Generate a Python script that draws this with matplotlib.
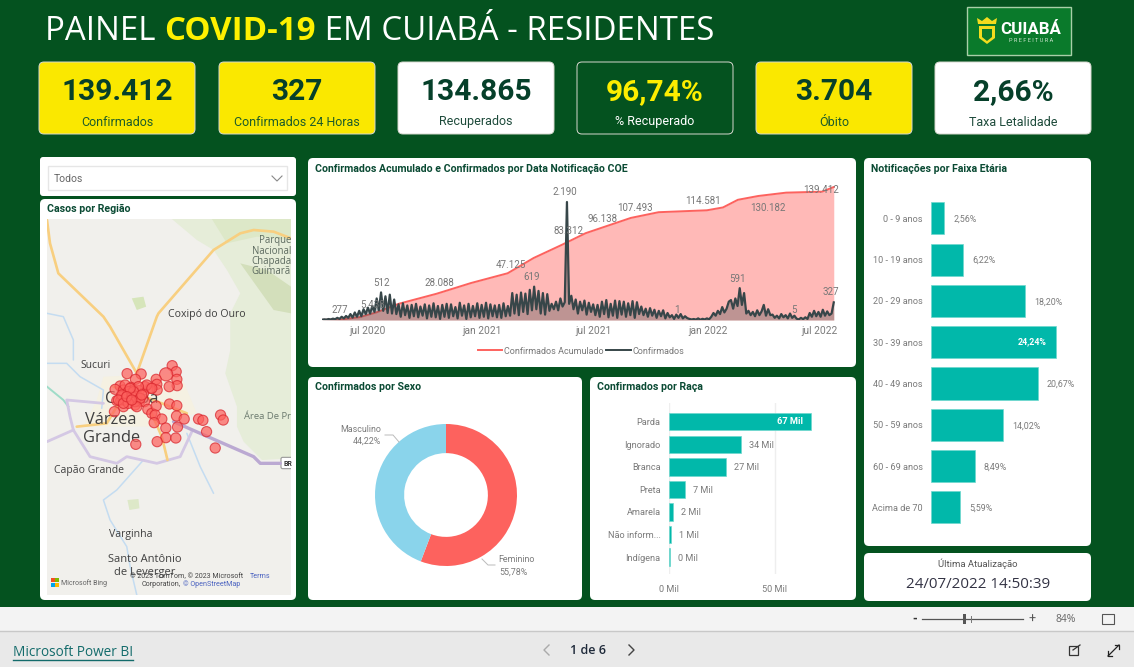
import numpy as np
import pandas as pd
import matplotlib
matplotlib.use("Agg")
import matplotlib.pyplot as plt
from matplotlib.patches import FancyBboxPatch, Rectangle, Polygon
from matplotlib.lines import Line2D

W, H = 1134, 667
BG = "#04521f"
DARK = "#06402a"
YEL = "#fae800"
TEAL = "#01b8aa"
RED = "#fd625e"
BLUE = "#8ad4eb"
GRAY = "#7b7b7b"
DIN = "Roboto"
SEG = "Open Sans"

# ---- KPI cards
kpi_values = ["139.412", "327", "134.865", "96,74%", "3.704", "2,66%"]
kpi_labels = ["Confirmados", "Confirmados 24 Horas", "Recuperados", "% Recuperado", "Óbito", "Taxa Letalidade"]

# ---- cumulative confirmed
cum_dates = ["2020-04-18", "2020-05-20", "2020-06-18", "2020-07-15", "2020-08-20", "2020-10-20", "2020-12-15",
             "2021-02-12", "2021-03-26", "2021-05-10", "2021-06-18", "2021-08-30", "2021-10-14", "2021-12-31",
             "2022-01-26", "2022-02-19", "2022-03-24", "2022-05-08", "2022-07-05", "2022-07-24"]
cum_values = [100, 600, 3000, 8000, 17000, 27500, 38800, 49000, 65000, 78600, 91000, 107000, 113000, 115000,
              118000, 126000, 130000, 133500, 134500, 139412]

# ---- daily confirmed, alternating weekly highs and lows
daily_values = [5, 12, 8, 18, 10, 25, 15,
                40, 20, 60, 30, 75, 40,
                110, 45, 140, 60, 170, 70, 200, 110, 230, 120, 260,
                150, 400, 180, 512, 170, 440, 130, 470, 120, 380, 110,
                290, 60, 310, 90, 270, 40, 280, 70, 300, 50, 250, 80, 290, 30, 270, 60, 310, 50, 260, 20, 280, 60,
                300, 40, 290, 70, 240, 30, 320, 80, 270, 20, 300, 50, 260, 70, 310, 40, 280, 60, 320, 30, 290, 70, 270,
                50, 280, 40, 310, 70, 260,
                80, 500, 120, 470, 90, 510, 150, 490, 110, 560, 180, 619, 200, 540, 120, 500, 100, 480, 170,
                300, 200, 340, 180, 400, 250, 330,
                2190, 300,
                450, 200, 380, 120, 340, 180, 360, 100, 320, 150, 290,
                90, 280, 60, 340, 110, 370, 50, 300, 80, 360, 40, 350, 100, 340, 60, 310, 90, 350, 40, 330,
                110, 250, 90, 210, 60, 220, 80, 190, 40, 170, 70, 180, 30, 130, 50, 90, 20,
                100, 40, 110, 30, 70,
                35, 20, 10, 18, 8, 30, 5, 22, 10, 30, 12,
                60, 130, 80, 170, 110, 240, 140, 210,
                340, 370, 210, 400, 260,
                591, 280, 500,
                120, 170, 90, 150, 70, 180, 90, 160,
                280, 80, 200, 90,
                100, 40, 80, 30, 110, 50, 90, 30, 120, 40, 80,
                25, 10, 40, 15, 50, 20,
                130, 60, 170, 70, 150, 60, 190, 80, 160, 90, 120, 327]
daily_start, daily_end = "2020-04-18", "2022-07-24"
date_ticks = ["2020-07-01", "2021-01-01", "2021-07-01", "2022-01-01", "2022-07-01"]
date_tick_labels = ["jul 2020", "jan 2021", "jul 2021", "jan 2022", "jul 2022"]

# ---- sex
sex_labels = ["Feminino", "Masculino"]
sex_values = [55.78, 44.22]

# ---- race
race_labels = ["Parda", "Ignorado", "Branca", "Preta", "Amarela", "Não inform...", "Indígena"]
race_values = [67.0, 34.3, 27.0, 7.5, 1.8, 1.1, 0.4]
race_text = ["67 Mil", "34 Mil", "27 Mil", "7 Mil", "2 Mil", "1 Mil", "0 Mil"]

# ---- age
age_labels = ["0 - 9 anos", "10 - 19 anos", "20 - 29 anos", "30 - 39 anos", "40 - 49 anos", "50 - 59 anos",
              "60 - 69 anos", "Acima de 70"]
age_values = [2.56, 6.22, 18.20, 24.24, 20.67, 14.02, 8.49, 5.59]

# ---- map bubbles (map units)
bubble_x = [396, 408, 410, 411, 387, 378, 348, 350, 351, 303, 261, 286, 330, 315, 297, 272, 240, 225, 250, 270, 245,
            275, 230, 242, 298, 285, 250, 223, 313, 323, 335, 348, 345, 365, 342, 388, 410, 409, 432, 412, 377, 377,
            407, 351, 287, 475, 488, 499, 541, 549, 525, 280, 260, 290, 310, 255, 320, 335,
            265, 275, 285, 255, 245, 235, 295, 265, 280, 300, 270, 250, 290, 305, 260, 275]
bubble_y = [497, 515, 538, 557, 560, 523, 538, 553, 570, 522, 521, 538, 565, 560, 572, 562, 558, 568, 570, 580, 590,
            593, 602, 602, 605, 615, 620, 635, 605, 628, 640, 618, 645, 657, 668, 612, 617, 648, 657, 681, 684, 713,
            714, 725, 733, 657, 661, 695, 645, 660, 744, 570, 590, 590, 580, 555, 555, 565,
            575, 590, 605, 600, 585, 600, 560, 610, 575, 595, 565, 610, 620, 585, 590, 600]
bubble_s = [54] * len(bubble_x)
bubble_s[5] = 90


def box(x0, y0, x1, y1, **kw):
    return fig.add_axes([x0 / W, 1 - y1 / H, (x1 - x0) / W, (y1 - y0) / H], **kw)


def panel(x0, y0, x1, y1, fc="white", ec="none", r=5, lw=0.7):
    bg.add_patch(FancyBboxPatch((x0 + r, y0 + r), x1 - x0 - 2 * r, y1 - y0 - 2 * r,
                                boxstyle=f"round,pad={r},rounding_size={r}", fc=fc, ec=ec, lw=lw))


def T(x, y, s, size=7, color=GRAY, ha="center", va="center", family=DIN, weight="normal", ax=None, **kw):
    return (ax or top).text(x, y, s, fontsize=size, color=color, ha=ha, va=va, family=family, weight=weight, **kw)


fig = plt.figure(figsize=(W / 100, H / 100), dpi=100, facecolor=BG)
bg = fig.add_axes([0, 0, 1, 1], zorder=0)
bg.set_xlim(0, W); bg.set_ylim(H, 0); bg.axis("off")
top = fig.add_axes([0, 0, 1, 1], zorder=10)
top.set_xlim(0, W); top.set_ylim(H, 0); top.axis("off"); top.patch.set_alpha(0)

# bottom bars
bg.add_patch(Rectangle((0, 607), W, 24, fc="#f3f3f3", ec="none"))
bg.add_patch(Rectangle((0, 631), W, 36, fc="#e9e9e9", ec="none"))
bg.plot([0, W], [630.5, 630.5], color="#c8c8c8", lw=1)

# title made of three runs
fig.canvas.draw()
rend = fig.canvas.get_renderer()
cx = 45
for s, c, w in [("PAINEL ", "white", "normal"), ("COVID-19", "#fdf100", "bold"), (" EM CUIABÁ - RESIDENTES", "white", "normal")]:
    t = T(cx, 31, s.replace(" ", "\u00a0"), size=23.8, color=c, ha="left", family=SEG, weight=w)
    cx += t.get_window_extent(rend).width

# logo
bg.add_patch(Rectangle((967, 7), 104, 48, fc="#0a7a2b", ec="#a8cfa8", lw=1))
bg.add_patch(Polygon([(979, 26), (995, 26), (995, 38), (987, 44), (979, 38)], fc="#f2dc1e", ec="none"))
bg.add_patch(Polygon([(978, 24), (977, 18), (982, 21), (987, 17), (992, 21), (997, 18), (996, 24)], fc="#f2dc1e", ec="none"))
bg.add_patch(Polygon([(982, 29), (992, 29), (992, 37), (987, 41), (982, 37)], fc="#0a7a2b", ec="none"))
T(1030.5, 29, "CUIABÁ", size=12.2, color="white", weight="bold", family="Roboto")
T(1031, 40.5, "P R E F E I T U R A", size=4, color="#cfe6cf", family="Roboto")

# KPI cards
card_x = [(39, 195), (219, 375), (398, 554), (577, 733), (756, 912), (935, 1091)]
card_fc = [YEL, YEL, "white", BG, YEL, "white"]
card_val_c = [DARK, DARK, DARK, "#fdee00", DARK, DARK]
card_lab_c = ["#1d5c2a", "#1d5c2a", "#1d4a3a", "white", "#1d5c2a", "#1d4a3a"]
for (x0, x1), fc, vc, lc, v, l in zip(card_x, card_fc, card_val_c, card_lab_c, kpi_values, kpi_labels):
    panel(x0, 62, x1, 134, fc=fc, ec="#d8d8d0", r=5)
    xm = (x0 + x1) / 2
    T(xm, 92.5, v, size=21.5, color=vc, weight="bold")
    T(xm, 122, l, size=9, color=lc)

# panels
panel(40, 157, 296, 196, r=3)
panel(40, 199, 296, 600)
panel(308, 158, 856, 367)
panel(308, 377, 582, 600)
panel(590, 377, 856, 600)
panel(864, 158, 1091, 546)
panel(864, 553, 1091, 601)

# slicer
bg.add_patch(Rectangle((48, 166), 239, 24, fc="white", ec="#e6e6e6", lw=1))
T(54, 179.5, "Todos", size=7.5, color="#666666", ha="left")
bg.plot([272, 277, 282], [176, 181, 176], color="#888888", lw=0.8)

# titles
TIT = "#0a4a33"
for x, y, s in [(47, 208.5, "Casos por Região"),
                (315, 169, "Confirmados Acumulado e Confirmados por Data Notificação COE"),
                (315, 387, "Confirmados por Sexo"),
                (597, 387, "Confirmados por Raça"),
                (871, 169, "Notificações por Faixa Etária")]:
    T(x, y, s, size=7.6, color=TIT, ha="left", weight="bold")

# ===== map
m = box(47, 219, 291, 595, zorder=2)
m.set_xlim(21, 752); m.set_ylim(1185, 57); m.axis("off")
m.add_patch(Rectangle((21, 57), 731, 1128, fc="#f1f0ec", ec="none"))
green_main = [(395, 57), (752, 57), (752, 775), (665, 780), (610, 725), (590, 680), (590, 620), (555, 520), (570, 450),
              (570, 340), (600, 280), (560, 210), (520, 150), (470, 120)]
m.add_patch(Polygon(green_main, fc="#e6edd9", ec="none"))
m.add_patch(Polygon([(600, 190), (680, 210), (752, 260), (752, 340), (700, 330), (650, 260)], fc="#d3dfbb", ec="none"))
m.add_patch(Polygon([(515, 57), (752, 57), (752, 120), (650, 110), (560, 130)], fc="#dde8c8", ec="none"))
m.add_patch(Polygon([(275, 295), (310, 290), (318, 320), (290, 330)], fc="#d6e5ba", ec="none"))
m.add_patch(Polygon([(262, 900), (295, 897), (298, 925), (268, 930)], fc="#dde8c8", ec="none"))
m.add_patch(Polygon([(190, 530), (420, 520), (470, 640), (340, 680), (130, 680), (170, 600)], fc="#f5f1e2", ec="none"))
rivers = [[(21, 340), (70, 350), (100, 420), (100, 480)],
          [(21, 490), (80, 490), (120, 530), (190, 570), (185, 625)],
          [(310, 780), (230, 870), (190, 900), (210, 960), (260, 1040), (270, 1100), (290, 1185)],
          [(440, 700), (480, 800), (520, 880)]]
for r in rivers:
    m.plot(*zip(*r), color="#c4dcf1", lw=1.1, solid_capstyle="round")
m.plot([21, 70, 85], [560, 600, 620], color="#9fdcc8", lw=1.4)
ring = [[(21, 725), (100, 690), (90, 650), (80, 600), (190, 610)],
        [(100, 690), (150, 770), (230, 790), (260, 770), (350, 790), (420, 770), (455, 695)]]
for r in ring:
    m.plot(*zip(*r), color="#d4c8e4", lw=2.0, solid_capstyle="round")
m.plot([400, 640, 660, 720], [665, 770, 790, 790], color="#bba9d2", lw=2.4, solid_capstyle="round")
roads = [[(21, 60), (30, 130), (55, 220), (190, 350), (210, 380), (290, 520)],
         [(290, 520), (350, 350), (355, 340), (520, 150), (600, 100), (640, 90), (700, 95), (752, 115)],
         [(330, 630), (365, 710), (382, 780)],
         [(220, 560), (340, 600), (440, 640)], [(110, 680), (200, 670), (230, 620)]]
for r in roads:
    m.plot(*zip(*r), color="#f8cf80", lw=1.9, solid_capstyle="round")
city = "#3f3f3f"
m.text(500, 343, "Coxipó do Ouro", fontsize=7.6, color=city, ha="center", va="center", family=SEG)
m.text(168, 498, "Sucuri", fontsize=7.4, color=city, ha="center", va="center", family=SEG)
m.text(274, 598, "Cuiabá", fontsize=12, color=city, ha="center", va="center", family=SEG)
m.text(213, 660, "Várzea", fontsize=11.8, color=city, ha="center", va="center", family=SEG)
m.text(213, 713, "Grande", fontsize=11.8, color=city, ha="center", va="center", family=SEG)
m.text(146, 813, "Capão Grande", fontsize=7.5, color=city, ha="center", va="center", family=SEG)
m.text(273, 1005, "Varginha", fontsize=7.6, color=city, ha="center", va="center", family=SEG)
m.text(313, 1080, "Santo Antônio", fontsize=8, color=city, ha="center", va="center", family=SEG)
m.text(313, 1118, "de Leverger", fontsize=8, color=city, ha="center", va="center", family=SEG)
for yy, s in zip([121, 154, 185, 215], ["Parque", "Nacional", "Chapada", "Guimarã"]):
    m.text(752, yy, s, fontsize=6.9, color="#5d6b60", ha="right", va="center", family=SEG)
m.text(752, 650, "Área De Pr", fontsize=6.8, color="#6b7a6e", ha="right", va="center", family=SEG, clip_on=True)
m.add_patch(FancyBboxPatch((722, 772), 40, 34, boxstyle="round,pad=0,rounding_size=5", fc="white", ec="#999999", lw=0.8, clip_on=True))
m.text(730, 791, "BR", fontsize=5, color="#333333", ha="left", va="center", family=DIN, weight="bold")
m.scatter(bubble_x, bubble_y, s=bubble_s, c=RED, alpha=0.72, edgecolors="#d9242c", linewidths=0.8, zorder=5)
for (qx, qy), c in zip([(32, 1135), (44, 1135), (32, 1148), (44, 1148)], ["#f25022", "#7fba00", "#00a4ef", "#ffb900"]):
    m.add_patch(Rectangle((qx, qy), 12, 12, fc=c, ec="none", zorder=6))
m.text(63, 1148, "Microsoft Bing", fontsize=5, color="#666666", ha="left", va="center", family=DIN, zorder=6)
m.text(610, 1130, "© 2023 TomTom, © 2023 Microsoft", fontsize=5.1, color="#444444", ha="right", va="center", family=DIN, zorder=6)
m.text(629, 1130, "Terms", fontsize=5.1, color="#4a62c0", ha="left", va="center", family=DIN, zorder=6)
m.text(422, 1153, "Corporation,", fontsize=5.1, color="#444444", ha="right", va="center", family=DIN, zorder=6)
m.text(427, 1153, "© OpenStreetMap", fontsize=5.1, color="#4a62c0", ha="left", va="center", family=DIN, zorder=6)

# ===== line chart
lx = box(322, 186, 835, 320, zorder=2)
cd = pd.to_datetime(cum_dates)
lx.fill_between(cd, cum_values, 0, color="#ffb9b7", lw=0)
lx.plot(cd, cum_values, color=RED, lw=1.4)
lx.set_ylim(0, 134 / 133 * 139412)
lx.set_xlim(pd.Timestamp(daily_start), pd.Timestamp("2022-07-26"))
lx.set_yticks([])
lx.set_xticks(pd.to_datetime(date_ticks))
lx.set_xticklabels(date_tick_labels, fontsize=7.4, color=GRAY, family=DIN)
lx.tick_params(axis="x", length=0, pad=4)
for s in lx.spines.values():
    s.set_visible(False)
lx.patch.set_alpha(0)
rx = lx.twinx()
dd = pd.date_range(daily_start, daily_end, periods=len(daily_values))
rx.fill_between(dd, daily_values, 0, color="#374649", alpha=0.32, lw=0)
rx.plot(dd, daily_values, color="#374649", lw=1.6, solid_joinstyle="round")
rx.set_ylim(0, 134 * 18.56)
rx.set_yticks([])
for s in rx.spines.values():
    s.set_visible(False)
line_labels = [(340, 310, "277"), (373, 305, "5.438"), (382, 283, "512"), (439, 283, "28.088"), (511, 265, "47.125"),
               (532, 277, "619"), (569, 231, "83.312"), (565, 192, "2.190"), (602, 219, "96.138"), (635, 208, "107.493"),
               (703, 201, "114.581"), (768, 208, "130.182"), (821, 190, "139.412"), (737, 279, "591"),
               (831, 292, "327"), (677, 310, "1"), (794, 310, "5")]
for x, y, s in line_labels:
    T(x, y, s, size=7, color="#777777")
fig.legend(handles=[Line2D([], [], color=RED, lw=1.4, label="Confirmados Acumulado"),
                    Line2D([], [], color="#374649", lw=1.4, label="Confirmados")],
           loc="center", bbox_to_anchor=(581 / W, 1 - 351 / H), ncol=2, frameon=False, handlelength=2.7,
           handletextpad=0.2, columnspacing=0.3, prop={"family": DIN, "size": 6.5}, labelcolor="#777777")

# ===== donut
dn = box(375, 424, 517, 566, zorder=2)
dn.pie(sex_values, colors=[RED, BLUE], startangle=90, counterclock=False, radius=1,
       wedgeprops={"width": 0.41, "edgecolor": "none"})
dn.set_xlim(-1, 1); dn.set_ylim(-1, 1)
T(498, 560, "Feminino", size=6.4, ha="left")
T(499, 572, "55,78%", size=6.4, ha="left")
T(381, 429, "Masculino", size=6.4, ha="right")
T(381, 441, "44,22%", size=6.4, ha="right")
top.plot([399, 393, 385], [442, 435, 435], color="#bbbbbb", lw=0.7)
top.plot([482, 488, 495], [559, 565, 565], color="#bbbbbb", lw=0.7)

# ===== race bars
ra = box(669, 403, 835, 574, zorder=2)
pos = np.arange(len(race_labels))
ra.barh(pos, race_values, height=0.77, color=TEAL, edgecolor="#6fd8ce", linewidth=0.5, zorder=3)
ra.set_xlim(0, 166 / 105.6 * 50)
ra.set_ylim(6.75, -0.83)
ra.set_xticks([0, 50]); ra.set_xticklabels(["0 Mil", "50 Mil"], fontsize=6.6, color=GRAY, family=DIN)
ra.set_yticks(pos); ra.set_yticklabels(race_labels, fontsize=6.6, color=GRAY, family=DIN)
ra.tick_params(length=0, pad=8)
ra.tick_params(axis="y", pad=6)
ra.grid(axis="x", color="#eeeeee", lw=1, zorder=0)
for s in ra.spines.values():
    s.set_visible(False)
for i, (v, s) in enumerate(zip(race_values, race_text)):
    if i == 0:
        ra.annotate(s, (v, i), xytext=(-8, 0), textcoords="offset pixels", ha="right", va="center", fontsize=6.6,
                    color="white", family=DIN, weight="bold", zorder=4)
    else:
        ra.annotate(s, (v, i), xytext=(8, -1), textcoords="offset pixels", ha="left", va="center", fontsize=6.6,
                    color=GRAY, family=DIN, zorder=4)

# ===== age bars
ag = box(931.3, 197.7, 1085, 528, zorder=2)
pos = np.arange(len(age_labels))
ag.barh(pos, age_values, height=0.78, color=TEAL, edgecolor="#6fd8ce", linewidth=0.5)
ag.set_xlim(0, (1085 - 931.3) / 5.14)
ag.set_ylim(7.5, -0.5)
ag.set_xticks([])
ag.set_yticks(pos); ag.set_yticklabels(age_labels, fontsize=6.6, color=GRAY, family=DIN)
ag.tick_params(length=0, pad=6)
for s in ag.spines.values():
    s.set_visible(False)
for i, v in enumerate(age_values):
    s = f"{v:.2f}%".replace(".", ",")
    if i == 3:
        ag.annotate(s, (v, i), xytext=(-9, 0), textcoords="offset pixels", ha="right", va="center", fontsize=6.4,
                    color="white", family=DIN, weight="bold")
    else:
        ag.annotate(s, (v, i), xytext=(9, -1), textcoords="offset pixels", ha="left", va="center", fontsize=6.4,
                    color=GRAY, family=DIN)

# last update
T(978, 564, "Última Atualização", size=6.8, color="#555555", family=DIN)
T(978, 584, "24/07/2022 14:50:39", size=10.9, color="#333344", family=SEG)

# footer
T(915, 619, "-", size=9, color="#333333", weight="bold")
top.plot([922, 1023], [619, 619], color="#555555", lw=0.9)
top.add_patch(Rectangle((962.5, 614), 3, 10, fc="#555555", ec="none"))
top.plot([971, 971], [616, 622], color="#777777", lw=0.7)
T(1032, 619, "+", size=9, color="#555555")
T(1066, 619, "84%", size=7.5, color="#666666", family=SEG)
top.add_patch(Rectangle((1102, 614), 12, 10, fc="none", ec="#555555", lw=0.8))
T(13, 652, "Microsoft Power BI", size=9.8, color="#136b6b", ha="left", family=SEG)
top.plot([13, 133], [660, 660], color="#136b6b", lw=1)
T(588, 651, "1 de 6", size=9, color="#1f2a3a", family=SEG, weight="semibold")
top.plot([549, 544, 549], [645, 650, 655], color="#aaaaaa", lw=1)
top.plot([629, 634, 629], [645, 650, 655], color="#444444", lw=1)
top.add_patch(Rectangle((1069, 646), 9, 9, fc="none", ec="#333333", lw=0.9))
top.plot([1073, 1080], [650, 645], color="#333333", lw=0.9)
top.plot([1108, 1119], [656, 645], color="#222222", lw=0.9)
top.plot([1108, 1108, 1112], [651, 656, 656], color="#222222", lw=0.9)
top.plot([1115, 1119, 1119], [645, 645, 649], color="#222222", lw=0.9)

fig.savefig("out.png", dpi=100, facecolor=BG)
